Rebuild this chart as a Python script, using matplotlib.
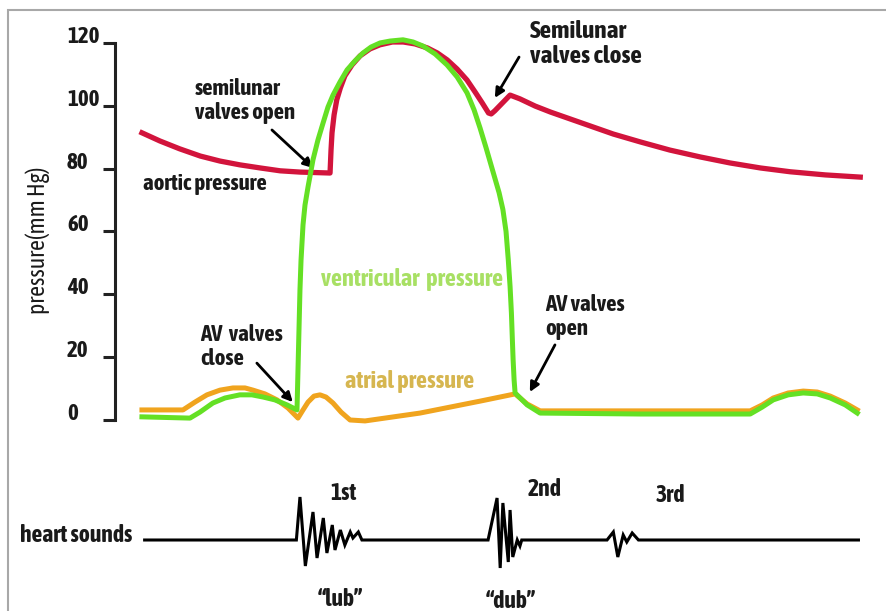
import matplotlib
matplotlib.use("Agg")
import matplotlib.pyplot as plt
from matplotlib import font_manager
from matplotlib.patches import Rectangle

# time through one cardiac cycle (ms) and pressures (mm Hg)
aortic_t = [0, 20, 42, 65, 87, 109, 132, 154, 176, 209.5, 210.6, 211.7, 214, 217, 221,
            226, 234, 243, 254, 265, 279, 291, 304, 318, 329, 340, 351, 362, 371, 379,
            386, 389, 393, 410, 421, 438, 455, 477, 499, 525, 555, 588, 622, 655, 689,
            722, 761, 800]
aortic_p = [91.4, 88.8, 86.3, 84.0, 82.4, 81.2, 80.2, 79.3, 78.9, 78.6, 85.9, 91.4, 97.1,
            101.9, 105.7, 109.5, 113.0, 115.9, 118.1, 119.4, 120.3, 120.3, 119.7, 118.4,
            116.8, 114.6, 111.7, 108.2, 104.4, 100.9, 97.7, 97.4, 98.4, 103.4, 102.2,
            99.9, 98.0, 95.8, 93.6, 91.0, 88.5, 85.9, 83.7, 81.8, 80.2, 79.0, 78.0, 77.3]

ventricular_t = [0, 53.5, 64.6, 79, 92.5, 109, 122.5, 135, 148, 161.6, 172.7, 173.8, 174.9,
                 176, 177.2, 179.4, 181.6, 185, 190.5, 196, 201.7, 207.2, 212.8, 220.6,
                 228.4, 237.3, 246.2, 255.2, 265.2, 276.3, 290.8, 302, 313.1, 326.5, 339.8,
                 351, 362.1, 369.9, 376.6, 383.3, 391.1, 397.8, 402, 405.5, 408, 410, 411.5,
                 412.5, 413.4, 414.5, 415.6, 429, 443.5, 555, 677.4, 690.8, 703.1, 719.8,
                 736.5, 752.1, 766.6, 783.3, 796.7]
ventricular_p = [1.0, 0.6, 2.5, 5.4, 7.0, 8.0, 8.0, 7.3, 6.4, 4.8, 3.2, 15.9, 28.6, 41.4,
                 50.9, 62.1, 68.4, 74.2, 82.8, 89.1, 94.5, 99.6, 103.4, 107.6, 111.4, 114.3,
                 116.8, 118.7, 120.0, 120.6, 121.0, 120.3, 119.0, 116.5, 113.0, 109.2, 104.1,
                 98.7, 92.9, 86.6, 78.9, 72.3, 67.0, 60.0, 51.0, 42.5, 34.0, 26.0, 19.1,
                 12.7, 8.6, 4.8, 2.2, 1.9, 1.9, 4.1, 6.4, 8.0, 8.6, 8.3, 7.0, 4.8, 2.2]

atrial_t = [0, 45.7, 59.1, 72.4, 86.9, 101.4, 114.8, 123.7, 137, 150.4, 162.7, 173.8, 179.4,
            185, 191.6, 198.3, 205, 212.8, 221.8, 231.8, 248.5, 309.7, 376.6, 415.6, 429,
            443.5, 677.4, 690.8, 703.1, 719.8, 736.5, 752.1, 766.6, 783.3, 796.7]
atrial_p = [3.2, 3.2, 5.7, 8.0, 9.5, 10.2, 10.2, 9.5, 8.3, 6.4, 3.8, 0.6, 3.2, 5.7, 7.6,
            8.0, 7.3, 5.4, 2.5, 0.0, -0.3, 2.2, 6.0, 8.3, 5.1, 2.9, 2.9, 4.8, 7.0, 8.6, 9.2,
            8.9, 7.6, 5.4, 3.2]

# phonocardiogram trace (arbitrary amplitude)
sound_t = [3, 172, 176, 182, 190.5, 195, 202, 206, 212, 215, 221, 226, 232, 235, 241,
           245, 385.5, 395.5, 399, 402, 408, 410, 413, 418, 421, 423, 518, 525, 530,
           536, 540, 546, 553, 798]
sound_a = [0, 0, 43, -26, 28, -18, 22, -13, 15, -10, 10, -5, 8, 2, 8, 0, 0, 42, -28, 37,
           -22, 30, -17, 0, -6, 0, 0, 8, -17, 5, -2, 7, 0, 0]

pressure_ticks = [0, 20, 40, 60, 80, 100, 120]

RED = '#d2143c'
GREEN = '#64e024'
ORANGE = '#f0a41e'
INK = '#1a1a1a'


def _weight(f):
    w = f.weight
    if isinstance(w, str):
        w = font_manager.weight_dict.get(w, 400)
    return w


def pick_narrow_font():
    """Return (family, stretch) of an installed condensed face with a bold cut."""
    narrow = ('condensed', 'semi-condensed', 'extra-condensed', 'ultra-condensed')
    faces = font_manager.fontManager.ttflist
    for f in faces:
        if ('Narrow' in f.name or 'Condensed' in f.name) and _weight(f) >= 600:
            return f.name, 'normal'
    for f in faces:
        if f.stretch in narrow and _weight(f) >= 600:
            return f.name, f.stretch
    return 'Liberation Sans', 'normal'


family, stretch = pick_narrow_font()
plt.rcParams['font.family'] = [family, 'DejaVu Sans']
plt.rcParams['font.stretch'] = stretch

W, H = 887, 611
fig = plt.figure(figsize=(W / 100, H / 100), dpi=100)

# pale frame along the top and left edges
fig.add_artist(Rectangle((8 / W, -0.05), 1.2, (H - 10) / H + 0.05,
                         transform=fig.transFigure, fill=False,
                         edgecolor='#a8a8a8', linewidth=1.5))

ax = fig.add_axes([115 / W, (H - 440) / H, 765 / W, 420 / H])
ax.set_xlim(-30, 822)
ax.set_ylim(-6.37, 127.3)

ax.plot(aortic_t, aortic_p, color=RED, lw=3.8, solid_joinstyle='round', zorder=2)
ax.plot(atrial_t, atrial_p, color=ORANGE, lw=3.6, solid_joinstyle='round', zorder=3)
ax.plot(ventricular_t, ventricular_p, color=GREEN, lw=3.6, solid_joinstyle='round', zorder=4)

for side in ('top', 'right', 'bottom'):
    ax.spines[side].set_visible(False)
ax.spines['left'].set_bounds(0, 120)
ax.spines['left'].set_linewidth(2.2)
ax.spines['left'].set_color('#222222')
ax.set_xticks([])
ax.set_yticks(pressure_ticks)
ax.tick_params(axis='y', length=8.5, width=2.2, color='#222222', pad=26,
               labelsize=16.5, labelcolor=INK)
for lbl in ax.get_yticklabels():
    lbl.set_horizontalalignment('left')
    lbl.set_verticalalignment('baseline')
    lbl.set_fontweight('bold')
ax.set_ylabel('pressure(mm Hg)', fontsize=17, color=INK)
ax.yaxis.set_label_coords(-0.085, 0.476)

bold = dict(fontsize=16.5, fontweight='bold', color=INK, ha='left', va='center',
            linespacing=1.1)
arrow = dict(arrowstyle='-|>', color='black', lw=2.0, mutation_scale=14,
             shrinkA=0, shrinkB=0)

ax.text(59, 101.5, 'semilunar\nvalves open', **bold)
ax.text(1, 75.1, 'aortic pressure', **bold)
ax.text(432, 119.7, 'Semilunar\nvalves close', **{**bold, 'fontsize': 18.3})
ax.text(64.6, 23.2, 'AV  valves\nclose', **bold)
ax.text(449, 32.8, 'AV valves\nopen', **bold)

ax.annotate('', xy=(190.5, 80.2), xytext=(144.8, 92.3), arrowprops=arrow)
ax.annotate('', xy=(393, 102.5), xytext=(420, 115.5), arrowprops=arrow)
ax.annotate('', xy=(168, 5.7), xytext=(128, 18.1), arrowprops=arrow)
ax.annotate('', xy=(432, 8.9), xytext=(460, 23.9), arrowprops=arrow)

ax.text(300.8, 44.6, 'ventricular  pressure', fontsize=17.5, fontweight='bold',
        color='#a8e064', ha='center', va='center')
ax.text(298.6, 12.1, 'atrial pressure', fontsize=17.5, fontweight='bold',
        color='#d6b650', ha='center', va='center')

# heart sounds strip
hs = fig.add_axes([115 / W, 0, 765 / W, 156 / H])
hs.set_xlim(-30, 822)
hs.set_ylim(-71, 85)
hs.axis('off')
hs.plot(sound_t, sound_a, color='black', lw=2.2, solid_joinstyle='miter')

small = dict(fontsize=17, fontweight='bold', color=INK, va='center')
hs.text(-136, 5, 'heart sounds', ha='left', **small)
hs.text(209.5, 47, '1st', ha='left', **small)
hs.text(430, 50, '2nd', ha='left', **small)
hs.text(571.6, 45, '3rd', ha='left', **small)
hs.text(220.6, -60, '\u201club\u201d', ha='center', **small)
hs.text(411, -61, '\u201cdub\u201d', ha='center', **small)

fig.savefig('out.png', dpi=100)
